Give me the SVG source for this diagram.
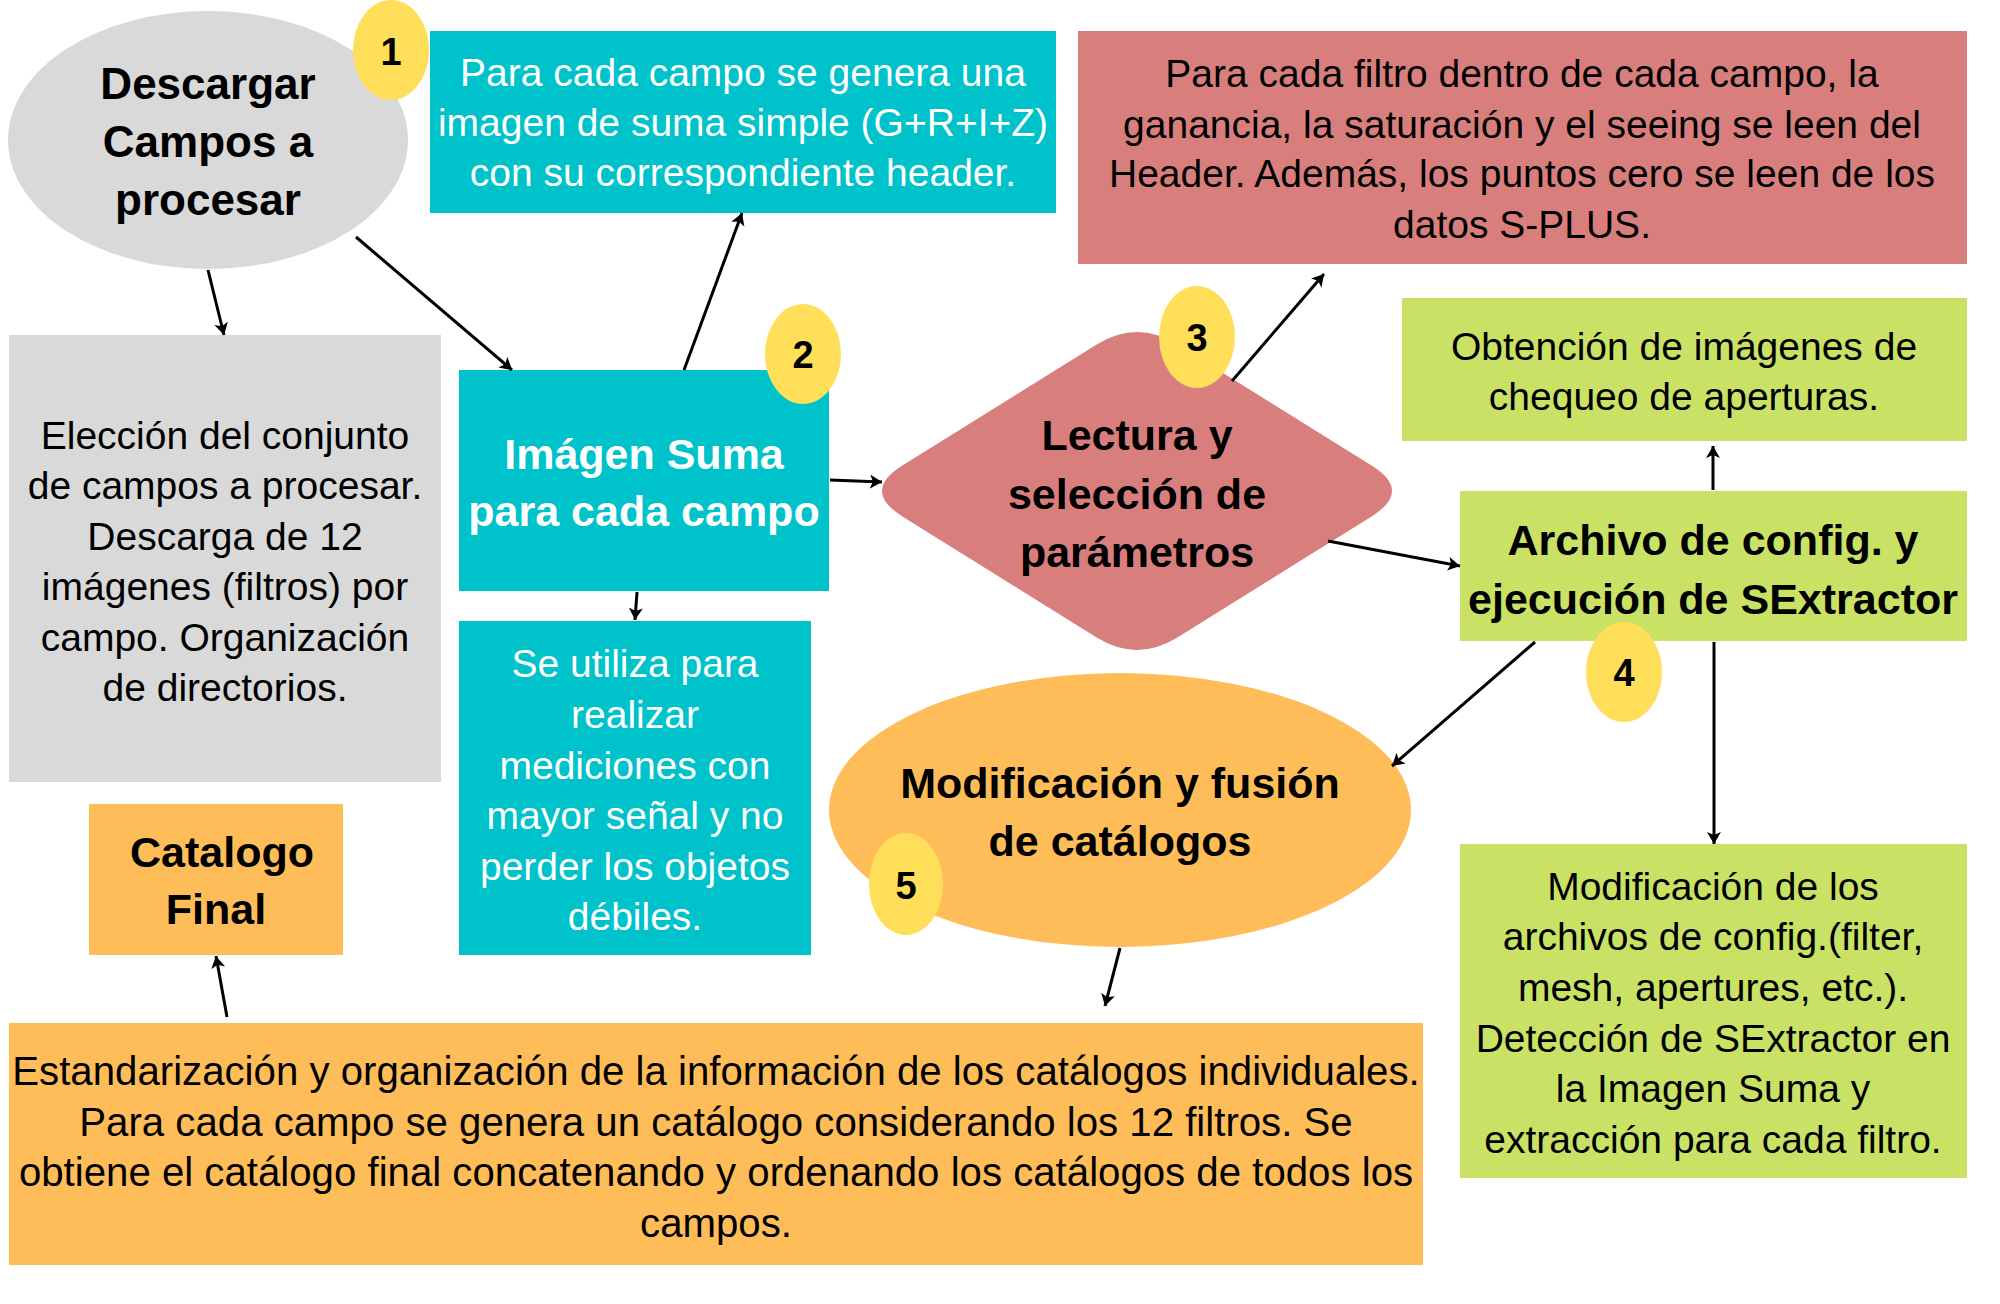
<svg xmlns="http://www.w3.org/2000/svg" width="2000" height="1304" viewBox="0 0 2000 1304">
<style>
text{font-family:"Liberation Sans",Arial,sans-serif;text-anchor:middle;fill:#000}
.t{font-size:39px}
.tl{font-size:40.2px}
.b{font-size:43px;font-weight:bold}
.w{fill:#fff}
.n{font-size:38px;font-weight:bold}
.gray{fill:#D9D9D9}.teal{fill:#00C2CB}.red{fill:#D87F7E}.green{fill:#C9E265}.orange{fill:#FFBD59}.yellow{fill:#FFDE59}
.c line{stroke:#000;stroke-width:3;marker-end:url(#ah)}
</style>
<defs>
<marker id="ah" markerUnits="userSpaceOnUse" markerWidth="16" markerHeight="16" refX="12" refY="7" orient="auto">
<path d="M0,0 L12,7 L0,14 L3,7 Z" fill="#000"/>
</marker>
</defs>
<rect width="2000" height="1304" fill="#fff"/>

<g id="descargar">
<ellipse class="gray" cx="208" cy="140" rx="200" ry="129"/>
<text class="b" x="208" y="99" style="font-size:44px">Descargar</text>
<text class="b" x="208" y="157" style="font-size:44px">Campos a</text>
<text class="b" x="208" y="215" style="font-size:44px">procesar</text>
</g>

<g id="suma-simple">
<rect class="teal" x="430" y="31" width="626" height="182"/>
<text class="t w" x="743" y="86">Para cada campo se genera una</text>
<text class="t w" x="743" y="136">imagen de suma simple (G+R+I+Z)</text>
<text class="t w" x="743" y="186">con su correspondiente header.</text>
</g>

<g id="eleccion">
<rect class="gray" x="9" y="335" width="432" height="447"/>
<text class="t" x="225" y="449">Elección del conjunto</text>
<text class="t" x="225" y="499">de campos a procesar.</text>
<text class="t" x="225" y="550">Descarga de 12</text>
<text class="t" x="225" y="600">imágenes (filtros) por</text>
<text class="t" x="225" y="651">campo. Organización</text>
<text class="t" x="225" y="701">de directorios.</text>
</g>

<g id="imagen-suma">
<rect class="teal" x="459" y="370" width="370" height="221"/>
<text class="b w" x="644" y="469">Imágen Suma</text>
<text class="b w" x="644" y="526">para cada campo</text>
</g>

<g id="utiliza">
<rect class="teal" x="459" y="621" width="352" height="334"/>
<text class="t w" x="635" y="677">Se utiliza para</text>
<text class="t w" x="635" y="728">realizar</text>
<text class="t w" x="635" y="779">mediciones con</text>
<text class="t w" x="635" y="829">mayor señal y no</text>
<text class="t w" x="635" y="880">perder los objetos</text>
<text class="t w" x="635" y="930">débiles.</text>
</g>

<g id="lectura">
<path class="red" d="M902.4,465.6 L1096.3,344.7 Q1137,319.3 1177.8,344.7 L1371.6,465.6 Q1412.4,491 1371.6,516.4 L1177.8,637.3 Q1137,662.7 1096.3,637.3 L902.4,516.4 Q861.6,491 902.4,465.6 Z"/>
<text class="b" x="1137" y="450">Lectura y</text>
<text class="b" x="1137" y="509">selección de</text>
<text class="b" x="1137" y="567">parámetros</text>
</g>

<g id="header-info">
<rect class="red" x="1078" y="31" width="889" height="233"/>
<text class="t" x="1522" y="87">Para cada filtro dentro de cada campo, la</text>
<text class="t" x="1522" y="138">ganancia, la saturación y el seeing se leen del</text>
<text class="t" x="1522" y="187">Header. Además, los puntos cero se leen de los</text>
<text class="t" x="1522" y="238">datos S-PLUS.</text>
</g>

<g id="chequeo">
<rect class="green" x="1402" y="298" width="565" height="143"/>
<text class="t" x="1684" y="360">Obtención de imágenes de</text>
<text class="t" x="1684" y="410">chequeo de aperturas.</text>
</g>

<g id="archivo-config">
<rect class="green" x="1460" y="491" width="507" height="150"/>
<text class="b" x="1713" y="555">Archivo de config. y</text>
<text class="b" x="1713" y="614">ejecución de SExtractor</text>
</g>

<g id="modificacion-config">
<rect class="green" x="1460" y="844" width="507" height="334"/>
<text class="t" x="1713" y="900">Modificación de los</text>
<text class="t" x="1713" y="950">archivos de config.(filter,</text>
<text class="t" x="1713" y="1001">mesh, apertures, etc.).</text>
<text class="t" x="1713" y="1052">Detección de SExtractor en</text>
<text class="t" x="1713" y="1102">la Imagen Suma y</text>
<text class="t" x="1713" y="1153">extracción para cada filtro.</text>
</g>

<g id="fusion">
<ellipse class="orange" cx="1120" cy="810" rx="291" ry="137"/>
<text class="b" x="1120" y="798">Modificación y fusión</text>
<text class="b" x="1120" y="856">de catálogos</text>
</g>

<g id="catalogo-final">
<rect class="orange" x="89" y="804" width="254" height="151"/>
<text class="b" x="222" y="867">Catalogo</text>
<text class="b" x="216" y="924">Final</text>
</g>

<g id="estandarizacion">
<rect class="orange" x="9" y="1023" width="1414" height="242"/>
<text class="tl" x="716" y="1085">Estandarización y organización de la información de los catálogos individuales.</text>
<text class="tl" x="716" y="1136">Para cada campo se genera un catálogo considerando los 12 filtros. Se</text>
<text class="tl" x="716" y="1186">obtiene el catálogo final concatenando y ordenando los catálogos de todos los</text>
<text class="tl" x="716" y="1237">campos.</text>
</g>

<g id="connectors" class="c">
<line x1="208" y1="270" x2="224" y2="335"/>
<line x1="356" y1="237" x2="512" y2="370"/>
<line x1="684" y1="370" x2="742" y2="213"/>
<line x1="637" y1="592" x2="635" y2="620"/>
<line x1="830" y1="480" x2="882" y2="482"/>
<line x1="1232" y1="381" x2="1324" y2="274"/>
<line x1="1328" y1="541" x2="1460" y2="566"/>
<line x1="1713" y1="490" x2="1713" y2="446"/>
<line x1="1714" y1="642" x2="1714" y2="844"/>
<line x1="1535" y1="642" x2="1392" y2="766"/>
<line x1="1120" y1="948" x2="1105" y2="1006"/>
<line x1="227" y1="1017" x2="216" y2="956"/>
</g>

<g id="badge-1"><ellipse class="yellow" cx="391" cy="50" rx="38" ry="50"/><text class="n" x="391" y="65">1</text></g>
<g id="badge-2"><ellipse class="yellow" cx="803" cy="354" rx="38" ry="50"/><text class="n" x="803" y="368">2</text></g>
<g id="badge-3"><ellipse class="yellow" cx="1197" cy="337" rx="38" ry="51"/><text class="n" x="1197" y="351">3</text></g>
<g id="badge-4"><ellipse class="yellow" cx="1624" cy="672" rx="38" ry="50"/><text class="n" x="1624" y="686">4</text></g>
<g id="badge-5"><ellipse class="yellow" cx="906" cy="884" rx="37" ry="51"/><text class="n" x="906" y="899">5</text></g>
</svg>
